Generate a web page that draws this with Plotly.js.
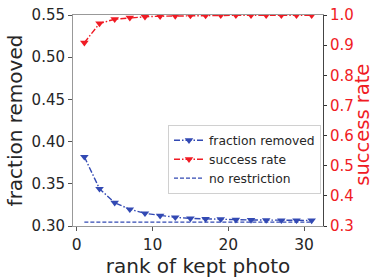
<!DOCTYPE html>
<html>
<head>
<meta charset="utf-8">
<script src="https://cdn.plot.ly/plotly-3.0.1.min.js"></script>
<style>html,body{margin:0;padding:0;background:#fff}#chart{width:374px;height:280px}</style>
</head>
<body>
<div id="chart"></div>
<script>
const rank = [1,3,5,7,9,11,13,15,17,19,21,23,25,27,29,31];
const fractionRemoved = [0.382,0.344,0.3276,0.3198,0.315,0.3122,0.3103,0.309,0.3083,0.308,0.3075,0.3072,0.307,0.3068,0.3067,0.3066];
const successRate = [0.908,0.972,0.986,0.991,0.994,0.996,0.997,0.998,0.998,0.999,0.999,0.999,0.999,0.999,0.999,0.999];
const noRestrictionX = [1,31];
const noRestriction = [0.3047,0.3047];
const leftTicks = [0.30,0.35,0.40,0.45,0.50,0.55];
const rightTicks = [0.3,0.4,0.5,0.6,0.7,0.8,0.9,1.0];
const xTicks = [0,10,20,30];

const blue = '#3249b3';
const red = '#f01b24';
const font = 'DejaVu Sans, sans-serif';

const traces = [
  {x: rank, y: fractionRemoved, name: 'fraction removed', mode: 'lines+markers', yaxis: 'y',
   line: {color: blue, dash: '6px,2px,1.5px,2px', width: 1.4}, marker: {symbol: 'triangle-down', size: 7.5, color: blue}},
  {x: rank, y: successRate, name: 'success rate', mode: 'lines+markers', yaxis: 'y2',
   line: {color: red, dash: '6px,2px,1.5px,2px', width: 1.4}, marker: {symbol: 'triangle-down', size: 7.5, color: red}},
  {x: noRestrictionX, y: noRestriction, name: 'no restriction', mode: 'lines', yaxis: 'y',
   line: {color: blue, dash: '4px,2px', width: 1.2}}
];

const layout = {
  width: 374, height: 280,
  margin: {l: 73, r: 51, t: 15, b: 54},
  paper_bgcolor: '#fff', plot_bgcolor: '#fff',
  font: {family: font, color: '#262626', size: 14},
  showlegend: true,
  legend: {x: 0.38, y: 0.48, xanchor: 'left', yanchor: 'top',
    bgcolor: 'rgba(255,255,255,0.8)', bordercolor: '#d0d0d0', borderwidth: 1,
    font: {family: font, size: 12.3, color: '#262626'}, tracegroupgap: 0, itemwidth: 30},
  xaxis: {range: [-0.5, 32.5], tickvals: xTicks, ticks: 'outside', ticklen: 4, tickcolor: '#555',
    showgrid: false, zeroline: false, showline: true, linecolor: '#999', linewidth: 1, mirror: true,
    tickfont: {size: 15.5, family: font, color: '#262626'},
    title: {text: 'rank of kept photo', font: {size: 20, family: font, color: '#262626'}, standoff: 2}},
  yaxis: {range: [0.30, 0.55], tickvals: leftTicks, tickformat: '.2f', ticks: 'outside', ticklen: 4, tickcolor: '#555',
    showgrid: false, zeroline: false, showline: true, linecolor: '#999', linewidth: 1,
    tickfont: {size: 15, family: font, color: '#262626'},
    title: {text: 'fraction removed', font: {size: 20, family: font, color: '#262626'}, standoff: 3}},
  yaxis2: {range: [0.3, 1.0], tickvals: rightTicks, tickformat: '.1f', overlaying: 'y', side: 'right',
    ticks: 'outside', ticklen: 3, tickcolor: '#333', showgrid: false, zeroline: false,
    showline: true, linecolor: '#444', linewidth: 1,
    tickfont: {size: 15, family: font, color: red}},
  annotations: [{
    text: 'success rate', xref: 'paper', yref: 'paper', x: 1 + (363 - 323) / 250, y: 0.48,
    xanchor: 'center', yanchor: 'middle', textangle: -90, showarrow: false, borderpad: 0,
    font: {size: 19.5, family: font, color: red}
  }]
};

Plotly.newPlot('chart', traces, layout, {staticPlot: true, displayModeBar: false});
</script>
</body>
</html>
